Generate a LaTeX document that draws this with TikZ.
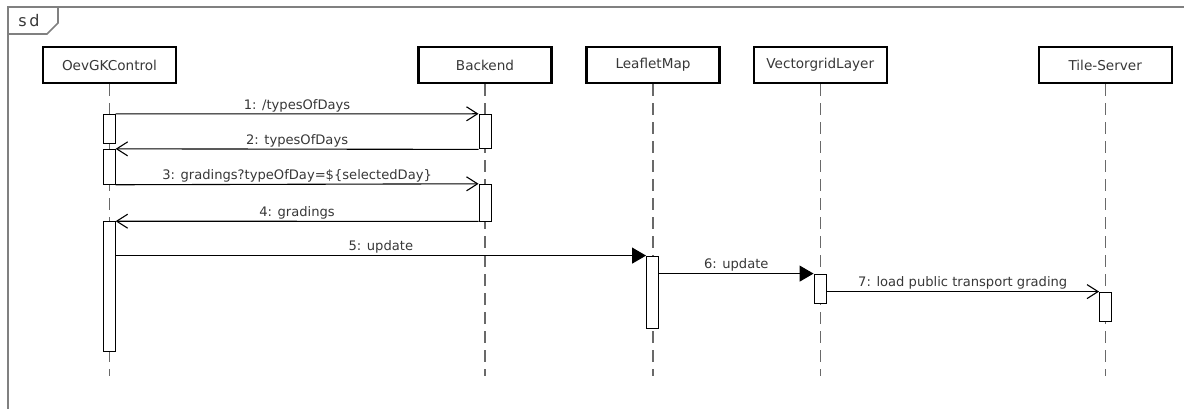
\documentclass[tikz,border=0pt]{standalone}
\usepackage{fontspec}
\setmainfont{DejaVu Sans}
\usepackage{xcolor}
\usepackage{tikz}
\usetikzlibrary{positioning, arrows.meta}
\definecolor{framegray}{RGB}{128,128,128}
\definecolor{linegray}{RGB}{105,105,105}
\definecolor{textgray}{RGB}{55,55,55}

\begin{document}
\begin{tikzpicture}[x=1pt,y=-1pt]
            \tikzset{head/.style = {draw, line width=2.4pt, minimum width=133pt, minimum height=36pt, inner sep=0pt, text=textgray, font=\fontsize{13.6}{15}\selectfont}}
            \tikzset{lifeline/.style = {linegray, line width=1.2pt, dash pattern=on 12pt off 7pt}}
            \tikzset{act/.style = {draw, fill=white, line width=0.9pt, minimum width=12pt, inner sep=0pt}}
            \tikzset{call/.style = {line width=1.1pt, -{Straight Barb[length=11pt,width=14pt,line width=1.1pt]}}}
            \tikzset{sync/.style = {line width=1.1pt, -{Triangle[length=14pt,width=16pt]}}}
            \tikzset{lbl/.style = {above, inner sep=1.5pt, text=textgray, font=\fontsize{13.1}{15}\selectfont}}
            \tikzset{frame/.style = {framegray, line width=1.6pt}}

            \useasboundingbox (0,0) rectangle (1184,409);

            % frame
            \draw[frame] (1184,7) -- (8,7) -- (8,409);
            \draw[frame] (8,34) -- (47,34) -- (58,23) -- (58,7);
            \node[text=textgray, font=\fontsize{16}{17}\selectfont] (sd) at (29,21) {s\,d};

            % lifeline heads
            \node[head] (ctrl) at (109.5,65) {OevGKControl};
            \node[head] (backend) at (485,65) {Backend};
            \node[head] (leaflet) at (653,65) {LeafletMap};
            \node[head] (vgrid) at (820.3,65) {VectorgridLayer};
            \node[head] (tiles) at (1105.2,65) {Tile-Server};

            \coordinate (bottom) at (0,376);
            \foreach \n in {ctrl, backend, leaflet, vgrid, tiles}
                \draw[lifeline] (\n.south) -- (\n.south |- bottom);

            % activations
            \node[act, minimum height=29pt] (ctrlA) at (109.2,128.8) {};
            \node[act, minimum height=35pt] (ctrlB) at (109.2,166.8) {};
            \node[act, minimum height=129.5pt] (ctrlC) at (109.2,286.4) {};
            \node[act, minimum height=34.7pt] (backA) at (485,131.6) {};
            \node[act, minimum height=36.7pt] (backB) at (485,202.6) {};
            \node[act, minimum height=72.3pt] (leafA) at (652.5,292.2) {};
            \node[act, minimum height=29.3pt] (vgridA) at (820,288.7) {};
            \node[act, minimum height=29.7pt] (tilesA) at (1105.5,306.9) {};

            % messages
            \draw[call] (ctrlA.north east) -- node[lbl]{1: /typesOfDays} (backA.north west);
            \draw[call] (backA.south west) -- node[lbl]{2: typesOfDays} (ctrlB.north east);
            \draw[call] (ctrlB.south east) -- node[lbl]{3: gradings?typeOfDay=\$\{selectedDay\}} (backB.north west);
            \draw[call] (backB.south west) -- node[lbl]{4: gradings} (ctrlC.north east);
            \draw[sync] (ctrlC.east |- leafA.north) -- node[lbl]{5: update} (leafA.north west);
            \draw[sync] (leafA.east |- vgridA.north) -- node[lbl]{6: update} (vgridA.north west);
            \draw[call] (vgridA.east |- tilesA.north) -- node[lbl]{7: load public transport grading} (tilesA.north west);

        \end{tikzpicture}
\end{document}
